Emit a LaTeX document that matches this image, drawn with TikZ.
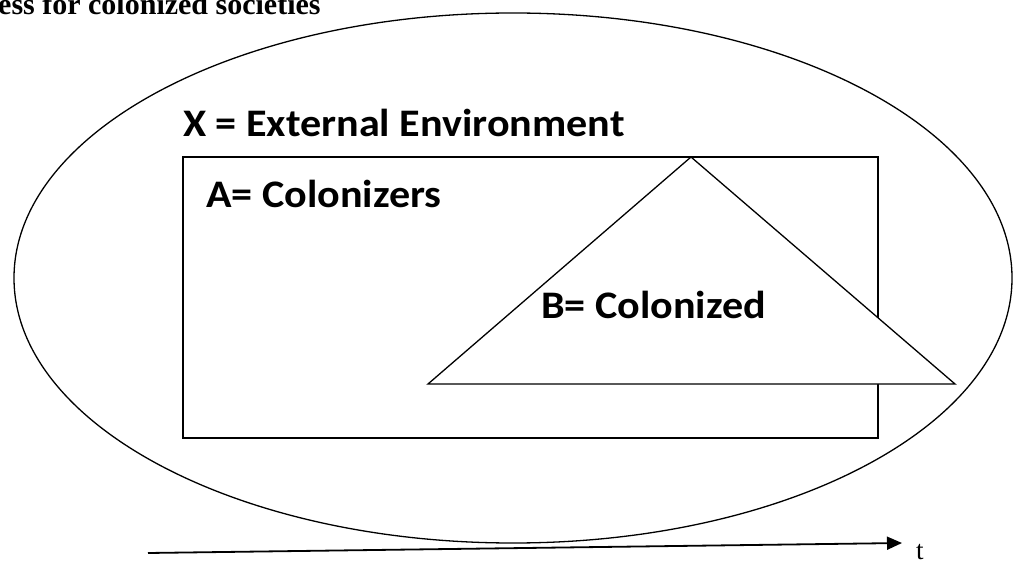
\documentclass[tikz,border=0pt]{standalone}
\usepackage{fontspec}
\setmainfont{Liberation Serif}
\newfontfamily\labelfont{Carlito}
\usetikzlibrary{arrows.meta}
\newcommand{\widelabel}[1]{\scalebox{1.08}[1]{#1}}
\begin{document}
\begin{tikzpicture}[x=1pt,y=-1pt,
  outline/.style={draw=black,line width=1.3pt},
  setlabel/.style={anchor=base west,inner sep=0pt,font=\labelfont\bfseries\fontsize{39}{44}\selectfont},
  heading/.style={anchor=base west,inner sep=0pt,font=\bfseries\fontsize{30}{34}\selectfont},
  timeaxis/.style={line width=1.8pt,-{Triangle[length=15pt,width=13pt]}}]
\useasboundingbox (0,0) rectangle (1015,561);
% heading, running past the page edge
\begin{scope}
\clip (0,0) rectangle (1015,561);
\node[heading] (title) at (-2,15) {ess for colonized societies};
\end{scope}
% X: the external environment
\draw[outline] (513,278) ellipse [x radius=499, y radius=265];
\node[setlabel] (xlab) at (183,137) {\widelabel{X = External Environment}};
% A: the colonizers
\draw[outline,line width=1.1pt] (183,157) rectangle (878,438);
\node[setlabel] (alab) at (206,208) {\widelabel{A= Colonizers}};
% B: the colonized, drawn over A
\coordinate (apex) at (691,157);
\coordinate (bl) at (428,384);
\coordinate (br) at (955,384);
\draw[outline,fill=white,line join=miter] (apex) -- (bl) -- (br) -- cycle;
\node[setlabel] (blab) at (541,319) {\widelabel{B= Colonized}};
% time axis
\coordinate (t0) at (148,553);
\coordinate (t1) at (902,543);
\draw[timeaxis] (t0) -- (t1);
\node[anchor=base west,inner sep=0pt,font=\fontsize{27}{30}\selectfont] (tlab) at (916,559) {t};
\end{tikzpicture}
\end{document}
